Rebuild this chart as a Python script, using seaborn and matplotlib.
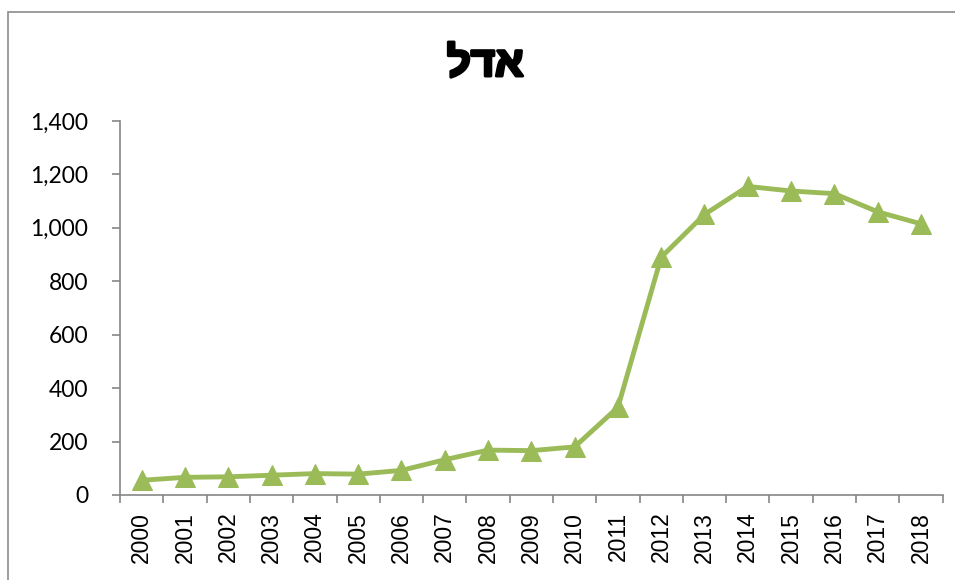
import matplotlib.pyplot as plt
import matplotlib.ticker as mticker
import matplotlib.patheffects as pe
from matplotlib.patches import Rectangle
import seaborn as sns
import numpy as np
import pandas as pd

sns.set_theme(style="white")
plt.rcParams['font.family'] = ['Lato', 'DejaVu Sans']
plt.rcParams['text.color'] = 'black'
plt.rcParams['xtick.color'] = 'black'
plt.rcParams['ytick.color'] = 'black'

# data
title = "אדל"
years = ["2000", "2001", "2002", "2003", "2004", "2005", "2006", "2007", "2008", "2009",
         "2010", "2011", "2012", "2013", "2014", "2015", "2016", "2017", "2018"]
values = [55, 66, 68, 74, 80, 78, 92, 132, 168, 166,
          180, 328, 890, 1050, 1155, 1138, 1128, 1060, 1015]

df = pd.DataFrame({"pos": np.arange(len(years)), "value": values})

fig = plt.figure(figsize=(9.55, 5.8), dpi=100)
ax = fig.add_axes([0.1257, 0.1466, 0.8613, 0.6448])

# chart-area border
fig.patches.append(Rectangle((8 / 955, -0.05), 1.0, 1.05 - 12 / 580, transform=fig.transFigure,
                             fill=False, edgecolor="#8c8c8c", linewidth=1.2))

sns.lineplot(data=df, x="pos", y="value", ax=ax, color="#9BBB59", linewidth=3.5,
             marker="^", markersize=14, markeredgecolor="#9BBB59")

ax.set_xlim(-0.5, len(years) - 0.5)
ax.set_ylim(0, 1400)
ax.yaxis.set_major_locator(mticker.MultipleLocator(200))
ax.yaxis.set_major_formatter(mticker.FuncFormatter(lambda v, p: f"{int(v):,}"))

ax.set_xticks(df["pos"])
ax.set_xticklabels(years, rotation=90)
ax.set_xticks(np.arange(len(years) + 1) - 0.5, minor=True)
ax.tick_params(axis="x", which="major", length=0, pad=12, colors="black")
ax.tick_params(axis="x", which="minor", length=6, width=1.2, color="#868686", direction="out", bottom=True)
ax.tick_params(axis="y", length=6, width=1.2, color="#868686", direction="out", left=True,
               labelsize=16.5, pad=17, labelcolor="black")
for lbl in ax.get_xticklabels():
    lbl.set_fontfamily("Liberation Sans")
    lbl.set_fontsize(16.5)

for side in ["top", "right"]:
    ax.spines[side].set_visible(False)
for side in ["left", "bottom"]:
    ax.spines[side].set_color("#868686")
    ax.spines[side].set_linewidth(1.2)

ax.set_xlabel("")
ax.set_ylabel("")
ax.grid(False)

# matplotlib draws left-to-right, so reverse the Hebrew for display
fig.text(0.508, 0.888, title[::-1], ha="center", va="center", fontsize=30, fontweight="bold",
         color="black", family=["Liberation Sans", "DejaVu Sans"],
         path_effects=[pe.withStroke(linewidth=2.2, foreground="black")])

fig.savefig("out.png", dpi=100)
